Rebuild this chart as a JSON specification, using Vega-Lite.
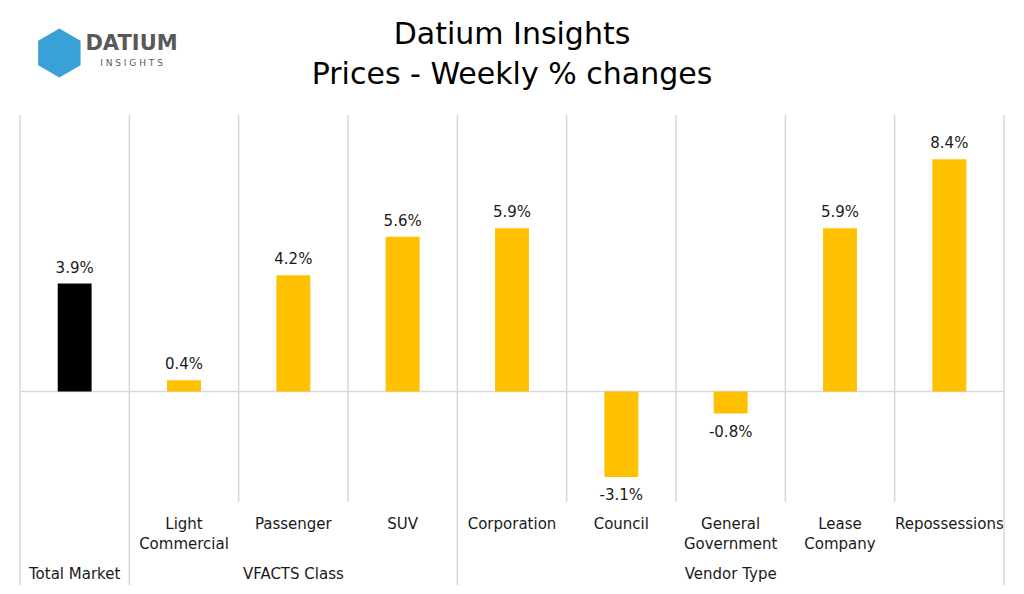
{
  "$schema": "https://vega.github.io/schema/vega-lite/v6.json",
  "width": 984,
  "height": 387,
  "autosize": {"type": "none"},
  "padding": {"left": 20, "top": 115, "right": 20, "bottom": 92},
  "background": "#ffffff",
  "config": {
    "view": {"stroke": null},
    "text": {"font": "DejaVu Sans", "fontSize": 15, "color": "#1a1a1a"}
  },
  "data": {"values": [
      {"category": "Total Market", "group": "Total Market", "change": 0.039, "segment": "Total"},
      {"category": "Light Commercial", "group": "VFACTS Class", "change": 0.004, "segment": "Detail"},
      {"category": "Passenger", "group": "VFACTS Class", "change": 0.042, "segment": "Detail"},
      {"category": "SUV", "group": "VFACTS Class", "change": 0.056, "segment": "Detail"},
      {"category": "Corporation", "group": "Vendor Type", "change": 0.059, "segment": "Detail"},
      {"category": "Council", "group": "Vendor Type", "change": -0.031, "segment": "Detail"},
      {"category": "General Government", "group": "Vendor Type", "change": -0.008, "segment": "Detail"},
      {"category": "Lease Company", "group": "Vendor Type", "change": 0.059, "segment": "Detail"},
      {"category": "Repossessions", "group": "Vendor Type", "change": 0.084, "segment": "Detail"}
  ]},
  "layer": [
    {
      "mark": {"type": "bar", "width": {"band": 0.31}},
      "encoding": {
        "x": {
          "field": "category",
          "type": "nominal",
          "scale": {
            "domain": ["Total Market", "Light Commercial", "Passenger", "SUV", "Corporation", "Council", "General Government", "Lease Company", "Repossessions"],
            "paddingInner": 0,
            "paddingOuter": 0
          },
          "axis": {
            "title": null,
            "domain": false,
            "ticks": false,
            "bandPosition": 0.5,
            "labelAngle": 0,
            "labelAlign": "center",
            "labelPadding": 14,
            "labelFont": "DejaVu Sans",
            "labelFontSize": 15,
            "labelLineHeight": 20,
            "labelColor": "#1a1a1a",
            "labelExpr": "datum.value == 'Total Market' ? '' : split(datum.value, ' ')"
          }
        },
        "y": {
          "field": "change",
          "type": "quantitative",
          "scale": {"domain": [-0.04, 0.10], "nice": false, "zero": false},
          "axis": {
            "values": [0],
            "grid": true,
            "gridColor": "#d9d9d9",
            "gridWidth": 1.5,
            "domain": false,
            "ticks": false,
            "labels": false,
            "title": null
          }
        },
        "color": {
          "field": "segment",
          "type": "nominal",
          "scale": {"domain": ["Total", "Detail"], "range": ["#000000", "#FFC000"]},
          "legend": null
        }
      }
    },
    {
      "transform": [{"filter": "indexof(['Total Market', 'Light Commercial', 'Corporation'], datum.category) < 0"}],
      "mark": {"type": "rule", "color": "#d9d9d9", "strokeWidth": 1.5},
      "encoding": {
        "x": {"field": "category", "type": "nominal", "bandPosition": 0},
        "y": {"datum": 0.10, "type": "quantitative"},
        "y2": {"datum": -0.04}
      }
    },
    {
      "transform": [{"filter": "indexof(['Total Market', 'Light Commercial', 'Corporation'], datum.category) >= 0"}],
      "mark": {"type": "rule", "color": "#d9d9d9", "strokeWidth": 1.5},
      "encoding": {
        "x": {"field": "category", "type": "nominal", "bandPosition": 0},
        "y": {"datum": 0.10, "type": "quantitative"},
        "y2": {"datum": -0.07}
      }
    },
    {
      "transform": [{"filter": "datum.category == 'Repossessions'"}],
      "mark": {"type": "rule", "color": "#d9d9d9", "strokeWidth": 1.5},
      "encoding": {
        "x": {"field": "category", "type": "nominal", "bandPosition": 1},
        "y": {"datum": 0.10, "type": "quantitative"},
        "y2": {"datum": -0.07}
      }
    },
    {
      "transform": [{"filter": "datum.change >= 0"}],
      "mark": {"type": "text", "baseline": "middle", "dy": -16, "text": {"expr": "replace(format(datum.change, '.1%'), '\u2212', '-')"}},
      "encoding": {
        "x": {"field": "category", "type": "nominal"},
        "y": {"field": "change", "type": "quantitative"}
      }
    },
    {
      "transform": [{"filter": "datum.change < 0"}],
      "mark": {"type": "text", "baseline": "middle", "dy": 18, "text": {"expr": "replace(format(datum.change, '.1%'), '\u2212', '-')"}},
      "encoding": {
        "x": {"field": "category", "type": "nominal"},
        "y": {"field": "change", "type": "quantitative"}
      }
    },
    {
      "transform": [{"filter": "indexof(['Total Market', 'Passenger', 'General Government'], datum.category) >= 0"}],
      "mark": {"type": "text", "baseline": "middle"},
      "encoding": {
        "x": {"field": "category", "type": "nominal"},
        "y": {"datum": -0.066, "type": "quantitative"},
        "text": {"field": "group", "type": "nominal"}
      }
    },
    {
      "data": {"values": [{"category": "Corporation", "line": "Datium Insights"}]},
      "mark": {"type": "text", "baseline": "middle", "align": "center", "fontSize": 30, "color": "#000000"},
      "encoding": {
        "x": {"field": "category", "type": "nominal"},
        "y": {"datum": 0.1289, "type": "quantitative"},
        "text": {"field": "line", "type": "nominal"}
      }
    },
    {
      "data": {"values": [{"category": "Corporation", "line": "Prices - Weekly % changes"}]},
      "mark": {"type": "text", "baseline": "middle", "align": "center", "fontSize": 30, "color": "#000000"},
      "encoding": {
        "x": {"field": "category", "type": "nominal"},
        "y": {"datum": 0.1145, "type": "quantitative"},
        "text": {"field": "line", "type": "nominal"}
      }
    },
    {
      "data": {"values": [{"category": "Total Market", "brand": "DATIUM"}]},
      "mark": {"type": "point", "filled": true, "opacity": 1, "shape": "M0,-1L0.866,-0.5L0.866,0.5L0,1L-0.866,0.5L-0.866,-0.5Z", "size": 2400, "color": "#3aa0d8"},
      "encoding": {
        "x": {"field": "category", "type": "nominal", "bandPosition": 0.36},
        "y": {"datum": 0.1224, "type": "quantitative"}
      }
    },
    {
      "data": {"values": [{"category": "Light Commercial", "brand": "DATIUM", "tag": "I N S I G H T S"}]},
      "mark": {"type": "text", "baseline": "middle", "align": "center", "fontSize": 21, "fontWeight": "bold", "color": "#595959"},
      "encoding": {
        "x": {"field": "category", "type": "nominal", "bandPosition": 0.02},
        "y": {"datum": 0.1257, "type": "quantitative"},
        "text": {"field": "brand", "type": "nominal"}
      }
    },
    {
      "data": {"values": [{"category": "Light Commercial", "brand": "DATIUM", "tag": "I N S I G H T S"}]},
      "mark": {"type": "text", "baseline": "middle", "align": "center", "fontSize": 9, "color": "#595959"},
      "encoding": {
        "x": {"field": "category", "type": "nominal", "bandPosition": 0.02},
        "y": {"datum": 0.1188, "type": "quantitative"},
        "text": {"field": "tag", "type": "nominal"}
      }
    }
  ]
}
